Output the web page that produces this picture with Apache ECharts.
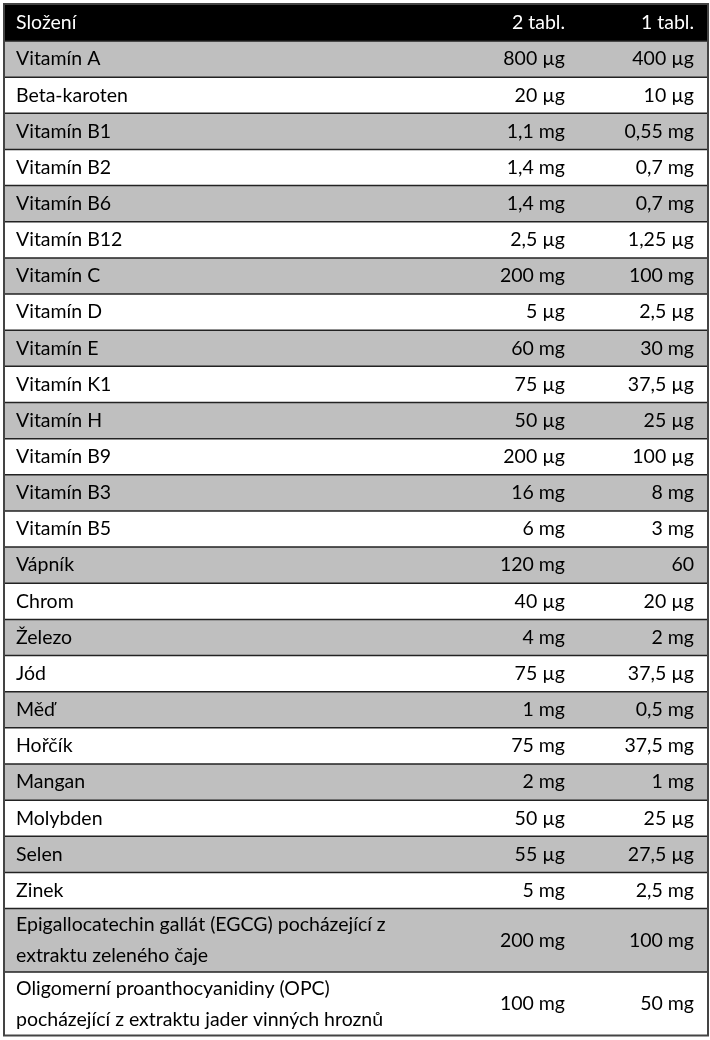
<!DOCTYPE html>
<html><head><meta charset="utf-8">
<script src="https://cdn.jsdelivr.net/npm/echarts@6/dist/echarts.min.js"></script>
<style>html,body{margin:0;padding:0;background:#fff}#c{width:710px;height:1040px}</style>
</head><body><div id="c"></div>
<script>
const headers = ['Složení', '2 tabl.', '1 tabl.'];
const names = ['Vitamín A','Beta-karoten','Vitamín B1','Vitamín B2','Vitamín B6','Vitamín B12','Vitamín C','Vitamín D','Vitamín E','Vitamín K1','Vitamín H','Vitamín B9','Vitamín B3','Vitamín B5','Vápník','Chrom','Železo','Jód','Měď','Hořčík','Mangan','Molybden','Selen','Zinek','Epigallocatechin gallát (EGCG) pocházející z\nextraktu zeleného čaje','Oligomerní proanthocyanidiny (OPC)\npocházející z extraktu jader vinných hroznů'];
const dose2 = ['800 µg','20 µg','1,1 mg','1,4 mg','1,4 mg','2,5 µg','200 mg','5 µg','60 mg','75 µg','50 µg','200 µg','16 mg','6 mg','120 mg','40 µg','4 mg','75 µg','1 mg','75 mg','2 mg','50 µg','55 µg','5 mg','200 mg','100 mg'];
const dose1 = ['400 µg','10 µg','0,55 mg','0,7 mg','0,7 mg','1,25 µg','100 mg','2,5 µg','30 mg','37,5 µg','25 µg','100 µg','8 mg','3 mg','60','20 µg','2 mg','37,5 µg','0,5 mg','37,5 mg','1 mg','25 µg','27,5 µg','2,5 mg','100 mg','50 mg'];

(function(){
const chart = echarts.init(document.getElementById('c'), null, {renderer:'canvas'});
const L=4, R=708, T0=4, headH=37, rowH=36.15, dblH=63.5;
const font = '19.5px Lato, "Open Sans", sans-serif';
const els = [];
els.push({type:'rect', shape:{x:L,y:T0,width:R-L,height:headH}, style:{fill:'#000'}});
const hy = T0+headH/2;
els.push({type:'text', style:{text:headers[0], x:16, y:hy, fill:'#fff', font, verticalAlign:'middle'}});
els.push({type:'text', style:{text:headers[1], x:565, y:hy, fill:'#fff', font, align:'right', verticalAlign:'middle'}});
els.push({type:'text', style:{text:headers[2], x:694, y:hy, fill:'#fff', font, align:'right', verticalAlign:'middle'}});
let y = T0+headH;
names.forEach((n,i)=>{
  const h = n.includes('\n') ? dblH : rowH;
  els.push({type:'rect', shape:{x:L,y:y,width:R-L,height:h}, style:{fill: i%2===0 ? '#bfbfbf' : '#fff'}});
  const cy = y+h/2;
  els.push({type:'text', style:{text:n, x:16, y:cy, fill:'#000', font, verticalAlign:'middle', lineHeight:31}});
  els.push({type:'text', style:{text:dose2[i], x:565, y:cy, fill:'#000', font, align:'right', verticalAlign:'middle'}});
  els.push({type:'text', style:{text:dose1[i], x:694, y:cy, fill:'#000', font, align:'right', verticalAlign:'middle'}});
  els.push({type:'line', shape:{x1:L,y1:y,x2:R,y2:y}, style:{stroke:'#222', lineWidth:1.5}});
  y += h;
});
els.push({type:'rect', shape:{x:L,y:T0,width:R-L,height:y-T0}, style:{fill:'none', stroke:'#444', lineWidth:2}});
chart.setOption({animation:false, graphic:{elements:els}});
})();
</script></body></html>
